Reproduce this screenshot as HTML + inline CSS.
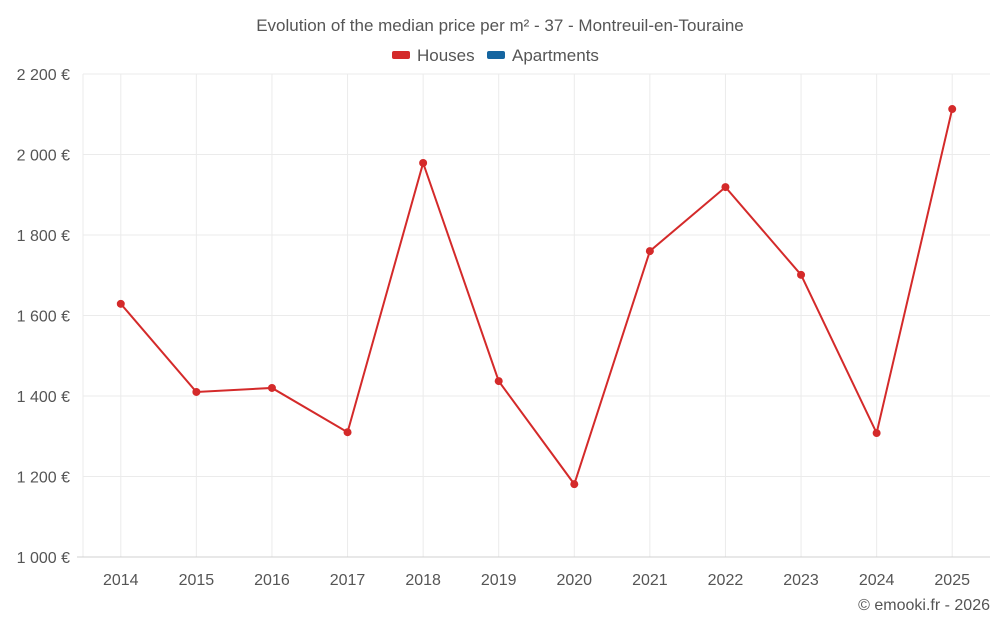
<!DOCTYPE html>
<html><head><meta charset="utf-8"><style>
body{margin:0;background:#fff;font-family:"Liberation Sans",sans-serif;}
svg{display:block}
text{font-family:"Liberation Sans",sans-serif;}
</style></head><body>
<svg id="chart" width="1000" height="625"></svg>
<script>
const categories=["2014","2015","2016","2017","2018","2019","2020","2021","2022","2023","2024","2025"];
const housesValues=[1629,1410,1420,1310,1979,1437,1181,1760,1919,1701,1308,2113];
const yTicks=[1000,1200,1400,1600,1800,2000,2200];
const yTickLabels=["1 000 €","1 200 €","1 400 €","1 600 €","1 800 €","2 000 €","2 200 €"];
const NS="http://www.w3.org/2000/svg";
const svg=document.getElementById('chart');
const L=83,R=990,T=74,B=557,yMin=1000,yMax=2200;
const band=(R-L)/categories.length;
const xs=i=>L+band*(i+0.5);
const ys=v=>B-(v-yMin)/(yMax-yMin)*(B-T);
function el(tag,attrs,parent){const e=document.createElementNS(NS,tag);for(const k in attrs)e.setAttribute(k,attrs[k]);(parent||svg).appendChild(e);return e;}
const grid=el('g',{});


el('line',{x1:L,x2:L,y1:T,y2:B,stroke:'#ebebeb','stroke-width':1},grid);
categories.forEach((c,i)=>{
  el('line',{x1:xs(i),x2:xs(i),y1:T,y2:B,stroke:'#ebebeb','stroke-width':1},grid);
  const tx=el('text',{x:xs(i),y:585,'text-anchor':'middle','font-size':16,fill:'#555'});
  tx.textContent=c;
  
  
});
yTicks.forEach((t,i)=>{
  el('line',{x1:i==0?77:L,x2:R,y1:ys(t),y2:ys(t),stroke:i==0?'#d0d0d0':'#ebebeb','stroke-width':1},grid);
  const tx=el('text',{x:70,y:ys(t)+6,'text-anchor':'end','font-size':16,fill:'#555'});
  tx.textContent=yTickLabels[i];
  
  
});
const line=el('polyline',{points:housesValues.map((v,i)=>xs(i)+','+ys(v)).join(' '),fill:'none',stroke:'#d42a2a','stroke-width':2});


housesValues.forEach((v,i)=>{
  const c=el('circle',{cx:xs(i),cy:ys(v),r:4,fill:'#d42a2a'});
  
  
});
const title=el('text',{x:500,y:31,'text-anchor':'middle','font-size':17,fill:'#555'});
title.textContent='Evolution of the median price per m² - 37 - Montreuil-en-Touraine';


const lg1=el('g',{});


el('rect',{x:392,y:51,width:18,height:8,rx:2,fill:'#d42a2a'},lg1);
el('text',{x:417,y:61,'font-size':17,fill:'#555'},lg1).textContent='Houses';
const lg2=el('g',{});


el('rect',{x:487,y:51,width:18,height:8,rx:2,fill:'#1565a0'},lg2);
el('text',{x:512,y:61,'font-size':17,fill:'#555'},lg2).textContent='Apartments';
const cr=el('text',{x:990,y:610,'text-anchor':'end','font-size':16,fill:'#555'});
cr.textContent='© emooki.fr - 2026';


</script>
</body></html>
